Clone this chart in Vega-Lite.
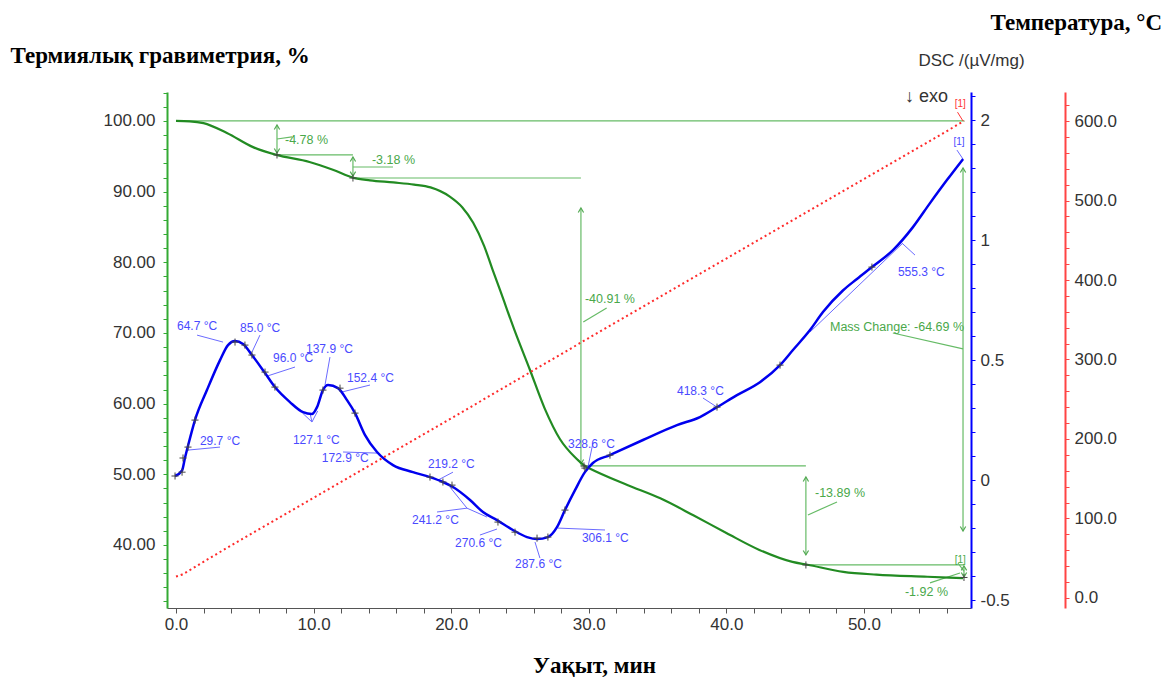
{
  "$schema": "https://vega.github.io/schema/vega-lite/v6.json",
  "width": 804,
  "height": 516,
  "autosize": "none",
  "padding": {"left": 167, "top": 92, "right": 197, "bottom": 72},
  "background": "white",
  "config": {
    "view": {"stroke": null},
    "axis": {"grid": false, "labelFont": "Liberation Sans", "labelFontSize": 17, "labelColor": "#333333", "labelOverlap": false, "labelFlush": false, "tickSize": 4, "ticks": true}
  },
  "datasets": {
    "tg": [
      {"t": 0, "v": 100}, {"t": 1.0, "v": 99.95}, {"t": 2.0, "v": 99.7}, {"t": 3.7, "v": 98.3}, {"t": 5.6, "v": 96.3},
      {"t": 7.3, "v": 95.2}, {"t": 9.7, "v": 94.2}, {"t": 11.4, "v": 93.1}, {"t": 12.9, "v": 91.95}, {"t": 14.1, "v": 91.6},
      {"t": 15.8, "v": 91.3}, {"t": 17.3, "v": 91.0}, {"t": 18.5, "v": 90.6}, {"t": 19.9, "v": 89.3}, {"t": 20.8, "v": 87.8},
      {"t": 21.6, "v": 85.6}, {"t": 22.4, "v": 82.3}, {"t": 23.0, "v": 79.0}, {"t": 23.6, "v": 75.8}, {"t": 24.6, "v": 70.4},
      {"t": 25.7, "v": 64.9}, {"t": 26.8, "v": 59.3}, {"t": 27.9, "v": 55.0}, {"t": 29.0, "v": 52.4}, {"t": 29.7, "v": 51.2},
      {"t": 30.1, "v": 50.8}, {"t": 32.8, "v": 48.5}, {"t": 35.2, "v": 46.6}, {"t": 37.6, "v": 44.2}, {"t": 40.0, "v": 41.7},
      {"t": 42.4, "v": 39.3}, {"t": 44.8, "v": 37.6}, {"t": 45.9, "v": 37.2}, {"t": 48.5, "v": 36.2}, {"t": 50.9, "v": 35.8},
      {"t": 54.6, "v": 35.5}, {"t": 57.2, "v": 35.3}
    ],
    "tgMarks": [
      {"t": 7.34, "v": 95.19}, {"t": 12.86, "v": 91.93}, {"t": 29.65, "v": 51.18}, {"t": 45.78, "v": 37.17}, {"t": 57.27, "v": 35.4}
    ],
    "gRules": [
      {"t": 0, "v": 100, "t2": 57.3, "v2": 100},
      {"t": 7.34, "v": 99.43, "t2": 7.34, "v2": 95.47},
      {"t": 7.34, "v": 95.19, "t2": 12.86, "v2": 95.19},
      {"t": 12.86, "v": 94.9, "t2": 12.86, "v2": 92.2},
      {"t": 12.86, "v": 91.93, "t2": 29.43, "v2": 91.93},
      {"t": 29.43, "v": 87.69, "t2": 29.43, "v2": 51.46},
      {"t": 29.43, "v": 51.18, "t2": 45.78, "v2": 51.18},
      {"t": 45.78, "v": 49.62, "t2": 45.78, "v2": 38.59},
      {"t": 45.78, "v": 37.17, "t2": 57.27, "v2": 37.17},
      {"t": 57.27, "v": 37.03, "t2": 57.27, "v2": 35.47},
      {"t": 57.2, "v": 93.35, "t2": 57.2, "v2": 41.98},
      {"t": 7.34, "v": 97.45, "t2": 8.43, "v2": 97.74},
      {"t": 12.86, "v": 93.49, "t2": 15.77, "v2": 93.49},
      {"t": 29.6, "v": 71.56, "t2": 31.3, "v2": 73.54},
      {"t": 45.93, "v": 44.25, "t2": 48.04, "v2": 46.09},
      {"t": 54.8, "v": 34.63, "t2": 56.98, "v2": 36.04},
      {"t": 52.1, "v": 70.0, "t2": 57.2, "v2": 67.74},
      {"t": 56.83, "v": 37.45, "t2": 57.27, "v2": 36.3}
    ],
    "gUp": [
      {"t": 7.34, "v": 99.43}, {"t": 12.86, "v": 94.9}, {"t": 29.43, "v": 87.69}, {"t": 45.78, "v": 49.62}, {"t": 57.27, "v": 37.03}, {"t": 57.2, "v": 93.35}
    ],
    "gDown": [
      {"t": 7.34, "v": 95.47}, {"t": 12.86, "v": 92.2}, {"t": 29.43, "v": 51.46}, {"t": 45.78, "v": 38.59}, {"t": 57.27, "v": 35.47}, {"t": 57.2, "v": 41.98}
    ],
    "gText": [
      {"t": 7.92, "v": 97.31, "label": "-4.78 %"},
      {"t": 14.24, "v": 94.48, "label": "-3.18 %"},
      {"t": 29.72, "v": 74.81, "label": "-40.91 %"},
      {"t": 46.44, "v": 47.36, "label": "-13.89 %"},
      {"t": 52.98, "v": 33.35, "label": "-1.92 %"},
      {"t": 47.53, "v": 70.85, "label": "Mass Change: -64.69 %"}
    ],
    "dsc": [
      {"t": -0.07, "v": 0.017}, {"t": 0.44, "v": 0.04}, {"t": 0.65, "v": 0.092}, {"t": 0.87, "v": 0.142}, {"t": 1.38, "v": 0.25},
      {"t": 2.25, "v": 0.375}, {"t": 3.2, "v": 0.5}, {"t": 3.78, "v": 0.5625}, {"t": 4.29, "v": 0.579}, {"t": 4.87, "v": 0.567},
      {"t": 5.52, "v": 0.521}, {"t": 6.47, "v": 0.446}, {"t": 7.19, "v": 0.3875}, {"t": 8.28, "v": 0.325}, {"t": 9.23, "v": 0.283},
      {"t": 9.88, "v": 0.275}, {"t": 10.25, "v": 0.304}, {"t": 10.68, "v": 0.375}, {"t": 11.05, "v": 0.396}, {"t": 11.77, "v": 0.383},
      {"t": 12.43, "v": 0.333}, {"t": 13.01, "v": 0.279}, {"t": 13.74, "v": 0.1875}, {"t": 14.61, "v": 0.117}, {"t": 15.77, "v": 0.0625},
      {"t": 17.22, "v": 0.033}, {"t": 18.46, "v": 0.0125}, {"t": 19.4, "v": -0.008}, {"t": 20.13, "v": -0.029}, {"t": 21.37, "v": -0.083},
      {"t": 22.31, "v": -0.133}, {"t": 23.33, "v": -0.167}, {"t": 24.49, "v": -0.208}, {"t": 25.51, "v": -0.2375}, {"t": 26.24, "v": -0.246},
      {"t": 27.03, "v": -0.2375}, {"t": 27.69, "v": -0.196}, {"t": 28.27, "v": -0.125}, {"t": 29.0, "v": -0.042}, {"t": 29.72, "v": 0.033},
      {"t": 30.3, "v": 0.071}, {"t": 31.54, "v": 0.104}, {"t": 33.94, "v": 0.167}, {"t": 36.41, "v": 0.229}, {"t": 38.08, "v": 0.2625},
      {"t": 39.32, "v": 0.304}, {"t": 40.77, "v": 0.354}, {"t": 42.44, "v": 0.408}, {"t": 43.9, "v": 0.479}, {"t": 44.84, "v": 0.542},
      {"t": 46.08, "v": 0.625}, {"t": 47.02, "v": 0.7}, {"t": 48.47, "v": 0.79}, {"t": 49.49, "v": 0.838}, {"t": 50.58, "v": 0.8875},
      {"t": 52.11, "v": 0.958}, {"t": 53.56, "v": 1.054}, {"t": 54.8, "v": 1.154}, {"t": 56.03, "v": 1.25}, {"t": 57.2, "v": 1.3375}
    ],
    "dscMarks": [
      {"t": -0.07, "v": 0.017}, {"t": 0.44, "v": 0.033}, {"t": 0.51, "v": 0.092}, {"t": 0.87, "v": 0.1375}, {"t": 1.38, "v": 0.25},
      {"t": 4.29, "v": 0.575}, {"t": 5.01, "v": 0.5625}, {"t": 5.52, "v": 0.521}, {"t": 6.47, "v": 0.45}, {"t": 7.19, "v": 0.3875},
      {"t": 10.68, "v": 0.375}, {"t": 11.92, "v": 0.383}, {"t": 13.01, "v": 0.279}, {"t": 18.46, "v": 0.0125}, {"t": 19.4, "v": -0.008},
      {"t": 20.06, "v": -0.021}, {"t": 23.4, "v": -0.175}, {"t": 24.64, "v": -0.217}, {"t": 26.24, "v": -0.242}, {"t": 27.03, "v": -0.2375},
      {"t": 28.27, "v": -0.125}, {"t": 29.72, "v": 0.05}, {"t": 31.54, "v": 0.104}, {"t": 39.32, "v": 0.304}, {"t": 43.9, "v": 0.479},
      {"t": 50.58, "v": 0.8875}
    ],
    "bRules": [
      {"t": 1.53, "v": 0.604, "t2": 3.42, "v2": 0.575},
      {"t": 6.1, "v": 0.604, "t2": 5.52, "v2": 0.533},
      {"t": 8.65, "v": 0.471, "t2": 6.61, "v2": 0.433},
      {"t": 11.19, "v": 0.5125, "t2": 10.83, "v2": 0.396},
      {"t": 14.1, "v": 0.396, "t2": 12.06, "v2": 0.367},
      {"t": 9.88, "v": 0.242, "t2": 9.74, "v2": 0.279},
      {"t": 9.2, "v": 0.279, "t2": 9.88, "v2": 0.242},
      {"t": 9.88, "v": 0.242, "t2": 10.3, "v2": 0.288},
      {"t": 3.2, "v": 0.1375, "t2": 0.87, "v2": 0.125},
      {"t": 12.14, "v": 0.117, "t2": 14.61, "v2": 0.1125},
      {"t": 20.13, "v": 0.033, "t2": 19.04, "v2": 0.0},
      {"t": 18.97, "v": -0.133, "t2": 21.15, "v2": -0.117},
      {"t": 21.15, "v": -0.117, "t2": 19.91, "v2": -0.029},
      {"t": 21.15, "v": -0.117, "t2": 22.6, "v2": -0.154},
      {"t": 22.09, "v": -0.229, "t2": 23.33, "v2": -0.204},
      {"t": 26.45, "v": -0.325, "t2": 26.09, "v2": -0.258},
      {"t": 27.76, "v": -0.2, "t2": 31.18, "v2": -0.208},
      {"t": 30.3, "v": 0.154, "t2": 29.94, "v2": 0.054},
      {"t": 38.3, "v": 0.342, "t2": 39.32, "v2": 0.304},
      {"t": 52.76, "v": 0.9875, "t2": 53.71, "v2": 0.9375},
      {"t": 46.08, "v": 0.617, "t2": 52.83, "v2": 0.9875},
      {"t": 56.76, "v": 1.375, "t2": 57.2, "v2": 1.3375}
    ],
    "bText": [
      {"t": 0.07, "v": 0.642, "label": "64.7 °C"},
      {"t": 4.65, "v": 0.633, "label": "85.0 °C"},
      {"t": 7.05, "v": 0.508, "label": "96.0 °C"},
      {"t": 9.45, "v": 0.546, "label": "137.9 °C"},
      {"t": 12.43, "v": 0.425, "label": "152.4 °C"},
      {"t": 8.5, "v": 0.167, "label": "127.1 °C"},
      {"t": 1.74, "v": 0.1625, "label": "29.7 °C"},
      {"t": 10.6, "v": 0.092, "label": "172.9 °C"},
      {"t": 18.31, "v": 0.067, "label": "219.2 °C"},
      {"t": 17.15, "v": -0.167, "label": "241.2 °C"},
      {"t": 20.28, "v": -0.2625, "label": "270.6 °C"},
      {"t": 24.64, "v": -0.35, "label": "287.6 °C"},
      {"t": 29.5, "v": -0.242, "label": "306.1 °C"},
      {"t": 28.49, "v": 0.15, "label": "328.6 °C"},
      {"t": 36.41, "v": 0.371, "label": "418.3 °C"},
      {"t": 52.47, "v": 0.867, "label": "555.3 °C"}
    ],
    "temp": [
      {"t": 0, "v": 27}, {"t": 0.5, "v": 30}, {"t": 1, "v": 35}, {"t": 2, "v": 45.5}, {"t": 5, "v": 76}, {"t": 10, "v": 126},
      {"t": 15, "v": 176}, {"t": 20, "v": 226}, {"t": 25, "v": 276.5}, {"t": 30, "v": 327}, {"t": 35, "v": 377}, {"t": 40, "v": 427},
      {"t": 45, "v": 477}, {"t": 50, "v": 527}, {"t": 55, "v": 577}, {"t": 57.27, "v": 600}
    ]
  },
  "encoding": {
    "x": {
      "field": "t", "type": "quantitative",
      "scale": {"domain": [-0.654, 57.78], "nice": false, "zero": false},
      "axis": {
        "values": [0,2,4,6,8,10,12,14,16,18,20,22,24,26,28,30,32,34,36,38,40,42,44,46,48,50,52,54,56],
        "labelExpr": "datum.value % 10 == 0 ? format(datum.value, '.1f') : ''",
        "domainColor": "#555555", "tickColor": "#555555", "tickSize": 5, "labelPadding": 3,
        "title": "Уақыт, мин", "titleFont": "Liberation Serif", "titleFontSize": 23, "titleFontWeight": "bold", "titleColor": "black",
        "titleX": 427, "titleY": 57, "titleBaseline": "middle", "titleAlign": "center"
      }
    }
  },
  "layer": [
    {
      "encoding": {
        "y": {
          "field": "v", "type": "quantitative",
          "scale": {"domain": [31.08, 104.1], "nice": false, "zero": false},
          "axis": {
            "orient": "left",
            "values": [32,34,36,38,40,42,44,46,48,50,52,54,56,58,60,62,64,66,68,70,72,74,76,78,80,82,84,86,88,90,92,94,96,98,100,102,104],
            "labelExpr": "datum.value % 10 == 0 ? format(datum.value, '.2f') : ''",
            "domainColor": "#33aa33", "domainWidth": 2, "tickColor": "#33aa33", "tickSize": 4, "labelPadding": 8,
            "title": "Термиялық гравиметрия, %", "titleAngle": 0, "titleAlign": "left", "titleBaseline": "middle",
            "titleX": -157, "titleY": -37, "titleFont": "Liberation Serif", "titleFontSize": 23, "titleFontWeight": "bold", "titleColor": "black"
          }
        }
      },
      "layer": [
        {"data": {"name": "gRules"}, "mark": {"type": "rule", "color": "#66bb66", "strokeWidth": 1.2},
         "encoding": {"x2": {"field": "t2"}, "y2": {"field": "v2"}}},
        {"data": {"name": "gUp"}, "mark": {"type": "point", "shape": "M-0.6,1L0,0L0.6,1", "filled": false, "stroke": "#55aa55", "strokeWidth": 1.2, "size": 80, "opacity": 1}},
        {"data": {"name": "gDown"}, "mark": {"type": "point", "shape": "M-0.6,-1L0,0L0.6,-1", "filled": false, "stroke": "#55aa55", "strokeWidth": 1.2, "size": 80, "opacity": 1}},
        {"data": {"name": "tg"}, "mark": {"type": "line", "color": "#228b22", "strokeWidth": 2.2, "interpolate": "monotone"}},
        {"data": {"name": "tgMarks"}, "mark": {"type": "point", "shape": "M-1,0L1,0M0,-1L0,1", "filled": false, "stroke": "#444444", "strokeWidth": 1, "size": 50, "opacity": 1}},
        {"data": {"name": "gText"}, "mark": {"type": "text", "align": "left", "baseline": "middle", "font": "Liberation Sans", "fontSize": 12.5, "color": "#4aa84a"},
         "encoding": {"text": {"field": "label"}}},
        {"data": {"values": [{"t": 56.6, "v": 37.88, "label": "[1]"}]}, "mark": {"type": "text", "align": "left", "baseline": "middle", "font": "Liberation Sans", "fontSize": 10, "color": "#4aa84a"},
         "encoding": {"text": {"field": "label"}}}
      ]
    },
    {
      "encoding": {
        "y": {
          "field": "v", "type": "quantitative",
          "scale": {"domain": [-0.533, 1.617], "nice": false, "zero": false},
          "axis": {
            "orient": "right",
            "values": [-0.5,-0.4,-0.3,-0.2,-0.1,0,0.1,0.2,0.3,0.4,0.5,0.6,0.7,0.8,0.9,1,1.1,1.2,1.3,1.4,1.5,1.6],
            "labelExpr": "datum.value == 1.5 ? '2' : datum.value == 1 ? '1' : datum.value == 0.5 ? '0.5' : datum.value == 0 ? '0' : datum.value == -0.5 ? '-0.5' : ''",
            "domainColor": "#0000ff", "domainWidth": 2, "tickColor": "#0000ff", "tickSize": 4, "labelPadding": 5,
            "title": "DSC /(µV/mg)", "titleAngle": 0, "titleAlign": "center", "titleBaseline": "middle",
            "titleX": 0, "titleY": -32, "titleFont": "Liberation Sans", "titleFontSize": 17, "titleFontWeight": "normal", "titleColor": "#333333"
          }
        }
      },
      "layer": [
        {"data": {"name": "bRules"}, "mark": {"type": "rule", "color": "#6b6bff", "strokeWidth": 1},
         "encoding": {"x2": {"field": "t2"}, "y2": {"field": "v2"}}},
        {"data": {"name": "dsc"}, "mark": {"type": "line", "color": "#0000ee", "strokeWidth": 2.5, "interpolate": "monotone"}},
        {"data": {"name": "dscMarks"}, "mark": {"type": "point", "shape": "M-1,0L1,0M0,-1L0,1", "filled": false, "stroke": "#444444", "strokeWidth": 1, "size": 50, "opacity": 1}},
        {"data": {"name": "bText"}, "mark": {"type": "text", "align": "left", "baseline": "middle", "font": "Liberation Sans", "fontSize": 12, "color": "#4a4aff"},
         "encoding": {"text": {"field": "label"}}},
        {"data": {"values": [{"t": 56.5, "v": 1.408, "label": "[1]"}]}, "mark": {"type": "text", "align": "left", "baseline": "middle", "font": "Liberation Sans", "fontSize": 10, "color": "#4a4aff"},
         "encoding": {"text": {"field": "label"}}},
        {"data": {"values": [{"t": 56.6, "v": 1.567, "label": "[1]"}]}, "mark": {"type": "text", "align": "left", "baseline": "middle", "font": "Liberation Sans", "fontSize": 10, "color": "#ff3333"},
         "encoding": {"text": {"field": "label"}}},
        {"data": {"values": [{"t": 56.8, "v": 1.533, "t2": 57.2, "v2": 1.496}]}, "mark": {"type": "rule", "color": "#ff3333", "strokeWidth": 1},
         "encoding": {"x2": {"field": "t2"}, "y2": {"field": "v2"}}},
        {"data": {"values": [{"t": 52.98, "v": 1.596, "label": "↓ exo"}]}, "mark": {"type": "text", "align": "left", "baseline": "middle", "font": "Liberation Sans", "fontSize": 18, "color": "#333333"},
         "encoding": {"text": {"field": "label"}}}
      ]
    },
    {
      "encoding": {
        "y": {
          "field": "v", "type": "quantitative",
          "scale": {"domain": [-12.6, 636.5], "nice": false, "zero": false},
          "axis": {
            "orient": "right", "offset": 94,
            "values": [0,20,40,60,80,100,120,140,160,180,200,220,240,260,280,300,320,340,360,380,400,420,440,460,480,500,520,540,560,580,600,620],
            "labelExpr": "datum.value % 100 == 0 ? format(datum.value, '.1f') : ''",
            "domainColor": "#ff4444", "domainWidth": 2, "tickColor": "#ff4444", "tickSize": 4, "labelPadding": 5,
            "title": "Температура, °C", "titleAngle": 0, "titleAlign": "left", "titleBaseline": "middle",
            "titleX": -75, "titleY": -70, "titleFont": "Liberation Serif", "titleFontSize": 23, "titleFontWeight": "bold", "titleColor": "black"
          }
        }
      },
      "layer": [
        {"data": {"name": "temp"}, "mark": {"type": "line", "color": "#ff2a2a", "strokeWidth": 2, "strokeDash": [2, 3], "interpolate": "monotone"}}
      ]
    }
  ],
  "resolve": {"scale": {"y": "independent"}, "axis": {"y": "independent"}}
}
